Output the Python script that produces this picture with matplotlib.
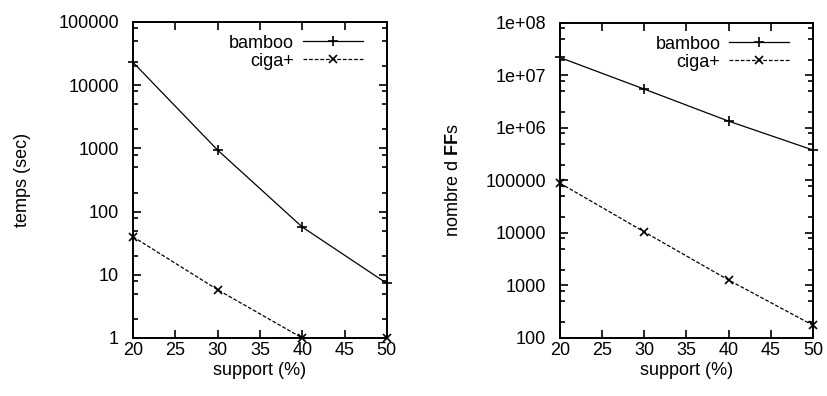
import matplotlib
import matplotlib.pyplot as plt
from matplotlib.ticker import LogLocator, FixedLocator, FixedFormatter, NullFormatter

matplotlib.use('Agg')
plt.rcParams["font.family"] = ["Liberation Sans", "DejaVu Sans"]
plt.rcParams["mathtext.fontset"] = "custom"
plt.rcParams["mathtext.rm"] = "Liberation Sans"
plt.rcParams["mathtext.bf"] = "Liberation Sans:bold"

support = [20, 30, 40, 50]

# temps (sec)
time_bamboo = [23000, 940, 57, 7.3]
time_ciga = [40, 5.8, 1.0, 1.0]

# nombre de FFs
count_bamboo = [2.2e7, 5.5e6, 1.35e6, 3.8e5]
count_ciga = [89000, 10500, 1270, 175]

xticks = [20, 25, 30, 35, 40, 45, 50]
left_yticks = [1, 10, 100, 1000, 10000, 100000]
left_ylabels = ["1", "10", "100", "1000", "10000", "100000"]
right_yticks = [100, 1000, 10000, 100000, 1e6, 1e7, 1e8]
right_ylabels = ["100", "1000", "10000", "100000", "1e+06", "1e+07", "1e+08"]

FS = 13


def style_axis(ax, yticks, ylabels, ylim):
    ax.set_yscale("log")
    ax.set_xlim(20, 50)
    ax.set_ylim(*ylim)
    ax.xaxis.set_major_locator(FixedLocator(xticks))
    ax.yaxis.set_major_locator(FixedLocator(yticks))
    ax.yaxis.set_major_formatter(FixedFormatter(ylabels))
    ax.yaxis.set_minor_locator(LogLocator(base=10, subs=[2, 5, 8]))
    ax.yaxis.set_minor_formatter(NullFormatter())
    ax.tick_params(axis="both", which="major", direction="in", length=6, width=1.2,
                   top=True, right=True, labelsize=FS)
    ax.tick_params(axis="x", which="major", pad=3)
    ax.tick_params(axis="y", which="major", pad=10)
    ax.tick_params(axis="y", which="minor", direction="in", length=3.5, width=1.2,
                   right=True, left=True)
    for s in ax.spines.values():
        s.set_linewidth(1.4)
    ax.set_xlabel("support (%)", fontsize=FS, labelpad=2)


def draw(ax, yb, yc):
    ax.plot(support, yb, color="black", lw=0.9, marker="+", ms=7, mew=1.2,
            label="bamboo", clip_on=False, zorder=3)
    ax.plot(support, yc, color="black", lw=0.9, marker="x", ms=5.5, mew=1.2,
            ls=(0, (3, 1.5)), label="ciga+", clip_on=False, zorder=3)
    ax.legend(loc="upper right", frameon=False, markerfirst=False, fontsize=FS,
              handlelength=3.3, handletextpad=0.5, labelspacing=0.05,
              borderaxespad=0.3, bbox_to_anchor=(0.955, 1.0))


fig = plt.figure(figsize=(8.27, 3.96), dpi=100)
ax1 = fig.add_axes([0.1608, 0.1465, 0.307, 0.798])
ax2 = fig.add_axes([0.677, 0.1465, 0.306, 0.7955])

draw(ax1, time_bamboo, time_ciga)
style_axis(ax1, left_yticks, left_ylabels, (1, 100000))
ax1.set_ylabel("temps (sec)", fontsize=FS, labelpad=20)

draw(ax2, count_bamboo, count_ciga)
style_axis(ax2, right_yticks, right_ylabels, (100, 1e8))
ax2.set_ylabel(r"nombre d $\mathbf{FF}$s", fontsize=FS, labelpad=17)

fig.savefig("out.png", dpi=100)
